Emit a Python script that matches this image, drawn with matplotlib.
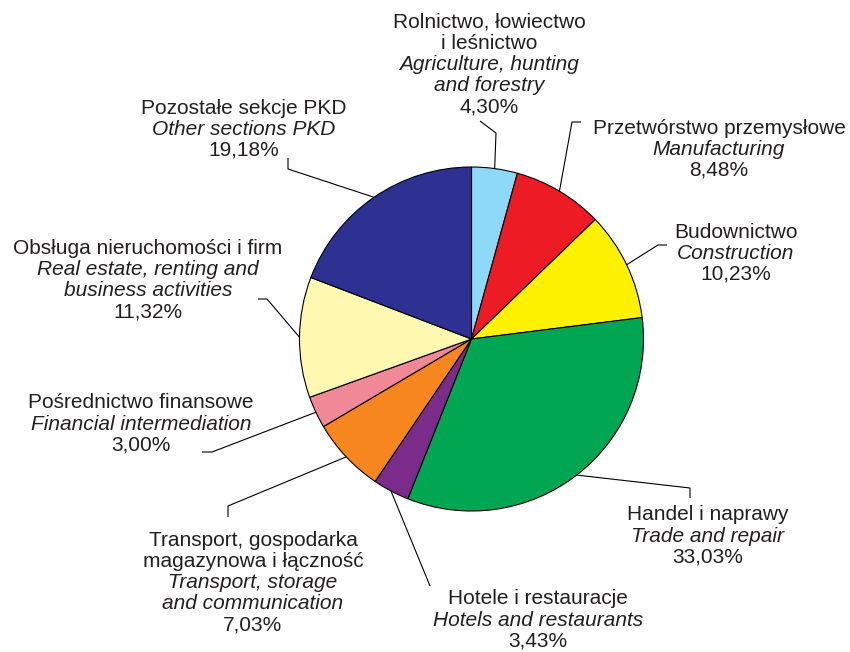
import numpy as np
import matplotlib
matplotlib.use("Agg")
import matplotlib.pyplot as plt

# ---- data ----
names_pl = ["Rolnictwo, łowiectwo\ni leśnictwo", "Przetwórstwo przemysłowe", "Budownictwo",
            "Handel i naprawy", "Hotele i restauracje",
            "Transport, gospodarka\nmagazynowa i łączność", "Pośrednictwo finansowe",
            "Obsługa nieruchomości i firm", "Pozostałe sekcje PKD"]
names_en = ["Agriculture, hunting\nand forestry", "Manufacturing", "Construction",
            "Trade and repair", "Hotels and restaurants",
            "Transport, storage\nand communication", "Financial intermediation",
            "Real estate, renting and\nbusiness activities", "Other sections PKD"]
shares = [4.30, 8.48, 10.23, 33.03, 3.43, 7.03, 3.00, 11.32, 19.18]
colors = ["#8ed8f8", "#ed1c24", "#fff200", "#00a651", "#7b2c8b",
          "#f7861f", "#f08898", "#fff8b0", "#2e3192"]

# ---- layout (pixel coords, y down) ----
W, H = 850, 652
TXT = "#231f20"
label_xy = [(489, 22), (719, 128), (736, 232), (708, 515), (538, 599),
            (253, 540), (141, 403), (148, 248), (244, 108)]
# leader path after the wedge point: list of points
leaders = [[(496, 133), (480, 121)],
           [(572, 122), (581, 122)],
           [(658, 245), (667, 245)],
           [(690, 488), (690, 498)],
           [(430, 586)],
           [(228, 506), (228, 517)],
           [(212, 452), (202, 452)],
           [(267, 299), (258, 299)],
           [(288, 169), (288, 158)]]
cx, cy, R = 471.5, 339, 172
step = 21.2

def Y(y):
    return H - y

fig = plt.figure(figsize=(8.5, 6.52), dpi=100)
ax = fig.add_axes([0, 0, 1, 1])
wedges, _ = ax.pie(shares, colors=colors, startangle=90, counterclock=False,
                   center=(cx, Y(cy)), radius=R,
                   wedgeprops=dict(edgecolor="black", linewidth=0.8))
ax.set_xlim(0, W)
ax.set_ylim(0, H)
ax.set_aspect("equal")
ax.axis("off")

for i, w in enumerate(wedges):
    ang = np.deg2rad((w.theta1 + w.theta2) / 2)
    px = cx + R * np.cos(ang)
    py = Y(cy) + R * np.sin(ang)
    xs = [px] + [p[0] for p in leaders[i]]
    ys = [py] + [Y(p[1]) for p in leaders[i]]
    ax.plot(xs, ys, color="black", lw=0.8, solid_capstyle="butt")

    lines = [(l, "normal") for l in names_pl[i].split("\n")]
    lines += [(l, "italic") for l in names_en[i].split("\n")]
    lines += [(f"{shares[i]:.2f}%".replace(".", ","), "normal")]
    lx, ly = label_xy[i]
    for k, (t, st) in enumerate(lines):
        ax.text(lx, Y(ly + k * step), t, ha="center", va="center",
                fontsize=15, style=st, color=TXT, family="Liberation Sans")

fig.savefig("out.png", dpi=100)
